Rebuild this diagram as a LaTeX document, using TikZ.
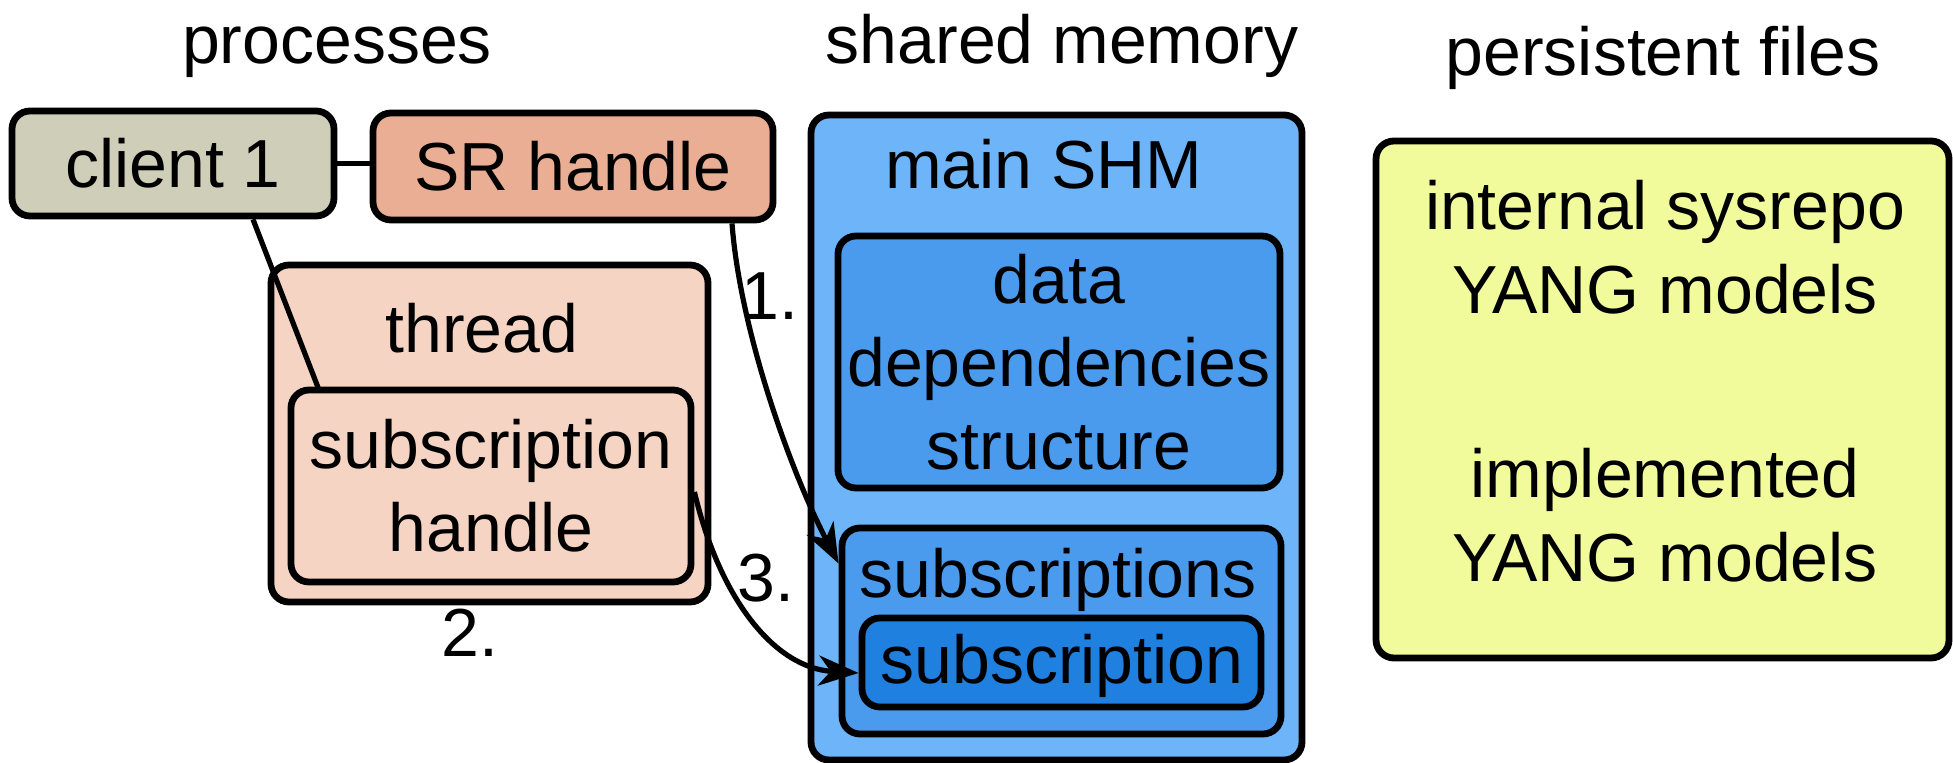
\documentclass[tikz,border=0pt]{standalone}
\usepackage{fontspec}
\setmainfont{Liberation Sans}
\usetikzlibrary{arrows.meta}

\definecolor{clientfill}{HTML}{CFCFB9}
\definecolor{srfill}{HTML}{EAAE94}
\definecolor{threadfill}{HTML}{F5D4C4}
\definecolor{shmfill}{HTML}{6EB4F8}
\definecolor{innerfill}{HTML}{4A9BEE}
\definecolor{subfill}{HTML}{1F80E0}
\definecolor{filesfill}{HTML}{F2FB9C}

\tikzset{
  box/.style={draw=black, line width=3.4pt, rounded corners=9pt, inner sep=0pt,
    align=center, font=\fontsize{34}{41.5}\selectfont},
  label/.style={inner sep=0pt, anchor=base, font=\fontsize{34}{41.5}\selectfont},
  link/.style={draw=black, line width=2.6pt},
  flow/.style={draw=black, line width=2.6pt, -{Stealth[length=20pt, width=15pt, inset=6pt]}},
}

\begin{document}
\begin{tikzpicture}[x=0.5pt, y=-0.5pt]
  \useasboundingbox (0,0) rectangle (1953,763);

  % column titles
  \node[label] (tproc)  at (337,64)  {processes};
  \node[label] (tshm)   at (1062,64) {shared memory};
  \node[label] (tfiles) at (1663,76) {persistent files};

  % processes
  \node[box, fill=clientfill, minimum width=161pt, minimum height=52.5pt] (client) at (173,163.5) {client 1};
  \node[box, fill=srfill, minimum width=200pt, minimum height=53.5pt] (sr) at (573,166.5) {SR handle};
  \draw[link] (client.east) -- (client.east -| sr.west);

  \node[box, fill=threadfill, minimum width=218.5pt, minimum height=168.5pt] (thread) at (489.5,433.5) {};
  \node[label] (threadlbl) at (482,353) {thread};
  \draw[link] ([xshift=40pt]client.south) -- (319,390) coordinate (subtop);
  \node[box, fill=threadfill, minimum width=200pt, minimum height=96pt] (subh) at (491,486) {subscription\\handle};
  \node[label] (two) at (470,657) {2.};

  % shared memory
  \node[box, fill=shmfill, minimum width=245.5pt, minimum height=322.5pt] (shm) at (1056.5,437.5) {};
  \node[label] (shmlbl) at (1044,189) {main SHM};
  \node[box, fill=innerfill, minimum width=221pt, minimum height=126pt] (dd) at (1059,362) {data\\dependencies\\structure};
  \node[box, fill=innerfill, minimum width=219.5pt, minimum height=103pt] (subs) at (1061.5,631) {};
  \node[label] (subslbl) at (1058,598) {subscriptions};
  \node[box, fill=subfill, minimum width=199.5pt, minimum height=44.5pt] (sub) at (1061.5,662.5) {};
  \node[label] (sublbl) at (1062,683) {subscription};

  % persistent files
  \node[box, fill=filesfill, minimum width=286.5pt, minimum height=258.5pt] (files) at (1662.5,399.5) {};
  \node[inner sep=0pt, align=center, font=\fontsize{34}{42}\selectfont] (filestext) at (1665,381)
    {internal sysrepo\\YANG models\\[50pt]implemented\\YANG models};

  % numbered steps
  \draw[flow] ([xshift=79.5pt]sr.south) .. controls (740,330) and (790,470) .. ([yshift=-19.5pt]subs.north west);
  \node[label] (one) at (770,320) {1.};
  \draw[flow] ([yshift=-3pt]subh.east) .. controls (720,600) and (775,668) .. ([yshift=-5.25pt]sub.west);
  \node[label] (three) at (766,602) {3.};
\end{tikzpicture}
\end{document}
